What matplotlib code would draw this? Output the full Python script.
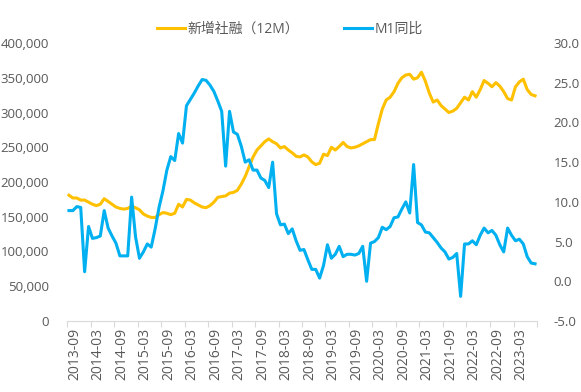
import matplotlib
matplotlib.use("Agg")
import matplotlib.pyplot as plt
from matplotlib.ticker import FuncFormatter, FixedLocator

plt.rcParams['font.family'] = ['Open Sans', 'Noto Sans CJK SC', 'DejaVu Sans']

# Months 2013-09 .. 2023-08
start_year, start_month = 2013, 9
n_months = 120
months = []
for i in range(n_months):
    y = start_year + (start_month - 1 + i) // 12
    m = (start_month - 1 + i) % 12 + 1
    months.append(f"{y}-{m:02d}")

# 新增社融（12M）, 亿元
tsf_12m = [181000, 177000, 177000, 174000, 174000, 171000, 168000, 166000, 168000, 176000,
           172000, 168000, 164000, 162000, 161000, 162000, 165000, 163000, 160000, 154000,
           151000, 149000, 149000, 153000, 156000, 155000, 153000, 155000, 168000, 164000,
           175000, 174000, 170000, 167000, 164000, 163000, 166000, 171000, 178000, 179000,
           180000, 184000, 185000, 188000, 197000, 208000, 222000, 236000, 246000, 252000,
           258000, 262000, 258000, 255000, 249000, 251000, 246000, 242000, 237000, 236000,
           239000, 236000, 229000, 225000, 227000, 240000, 238000, 250000, 246000, 251000,
           257000, 251000, 249000, 250000, 252000, 255000, 258000, 261000, 261000, 284000,
           305000, 318000, 322000, 330000, 342000, 350000, 354000, 355000, 348000, 350000,
           358000, 345000, 328000, 315000, 318000, 310000, 305000, 300000, 302000, 306000,
           314000, 322000, 318000, 330000, 322000, 333000, 346000, 342000, 337000, 343000,
           338000, 330000, 320000, 318000, 337000, 344000, 348000, 333000, 326000, 324000]

# M1同比, %
m1_yoy = [8.9, 8.9, 9.4, 9.3,
          1.2, 6.9, 5.4, 5.5, 5.7, 8.9, 6.7, 5.7, 4.8, 3.2, 3.2, 3.2,
          10.6, 5.6, 2.9, 3.7, 4.7, 4.3, 6.6, 9.3, 11.4, 14.0, 15.7, 15.2,
          18.6, 17.4, 22.1, 22.9, 23.7, 24.6, 25.4, 25.3, 24.7, 23.9, 22.7, 21.4,
          14.5, 21.4, 18.8, 18.5, 17.0, 15.0, 15.3, 14.0, 14.0, 13.0, 12.7, 11.8,
          15.0, 8.5, 7.1, 7.2, 6.0, 6.6, 5.1, 3.9, 4.0, 2.7, 1.5, 1.5,
          0.4, 2.0, 4.6, 2.9, 3.4, 4.4, 3.1, 3.4, 3.4, 3.3, 3.5, 4.4,
          0.0, 4.8, 5.0, 5.5, 6.8, 6.5, 6.9, 8.0, 8.1, 9.1, 10.0, 8.6,
          14.7, 7.4, 7.1, 6.2, 6.1, 5.5, 4.9, 4.2, 3.7, 2.8, 3.0, 3.5,
          -1.9, 4.7, 4.7, 5.1, 4.6, 5.8, 6.7, 6.1, 6.4, 5.8, 4.6, 3.7,
          6.7, 5.8, 5.1, 5.3, 4.7, 3.1, 2.3, 2.2]

labels_tsf = "新增社融（12M）"
labels_m1 = "M1同比"

ORANGE = "#FFC000"
BLUE = "#00B0F0"
TXT = "#595959"

fig = plt.figure(figsize=(5.81, 3.92), dpi=100)
ax = fig.add_axes([67/581, 1-321/392, (537-67)/581, (321-43)/392])
ax2 = ax.twinx()

x = list(range(len(months)))
l1, = ax.plot(x, tsf_12m, color=ORANGE, lw=2.2, solid_joinstyle='round')
l2, = ax2.plot(x, m1_yoy, color=BLUE, lw=2.2, solid_joinstyle='round')

ax.set_xlim(-0.5, len(months) - 0.5)
ax.set_ylim(0, 400000)
ax2.set_ylim(-5, 30)
ax.set_yticks(range(0, 400001, 50000))
ax.yaxis.set_major_formatter(FuncFormatter(lambda v, p: f"{int(v):,}"))
ax2.set_yticks([-5, 0, 5, 10, 15, 20, 25, 30])
ax2.yaxis.set_major_formatter(FuncFormatter(lambda v, p: f"{v:.1f}"))

# x ticks: marks at group boundaries, labels every 6 months
tick_marks = [i - 0.5 for i in range(0, len(months), 6)] + [len(months) - 0.5]
label_pos = [i + 1.5 for i in range(0, len(months) - 1, 6) if i + 1.5 < len(months) - 3]
ax.xaxis.set_major_locator(FixedLocator(tick_marks))
ax.set_xticklabels([])
ax.xaxis.set_minor_locator(FixedLocator(label_pos))
ax.set_xticklabels([months[int(p - 1.5)] for p in label_pos], minor=True, rotation=90)
ax.tick_params(axis='x', which='major', length=4, color='#D9D9D9', width=0.8)
ax.tick_params(axis='x', which='minor', length=0, pad=5, labelsize=10, labelcolor=TXT)

for a in (ax, ax2):
    for s in ('top', 'left', 'right'):
        a.spines[s].set_visible(False)
    a.spines['bottom'].set_visible(False)
ax.spines['bottom'].set_visible(True)
ax.spines['bottom'].set_color('#D9D9D9')
ax.spines['bottom'].set_linewidth(0.8)

ax.tick_params(axis='y', length=0, pad=13, labelsize=9.5, labelcolor=TXT)
ax2.tick_params(axis='y', length=0, pad=12, labelsize=9.5, labelcolor=TXT)

fig.legend([l1, l2], [labels_tsf, labels_m1], loc='center', bbox_to_anchor=(290/581, 1-29/392),
           ncol=2, frameon=False, fontsize=10, labelcolor=TXT, handlelength=2.0,
           columnspacing=3.2, handletextpad=0.2)

fig.savefig("out.png", dpi=100)
